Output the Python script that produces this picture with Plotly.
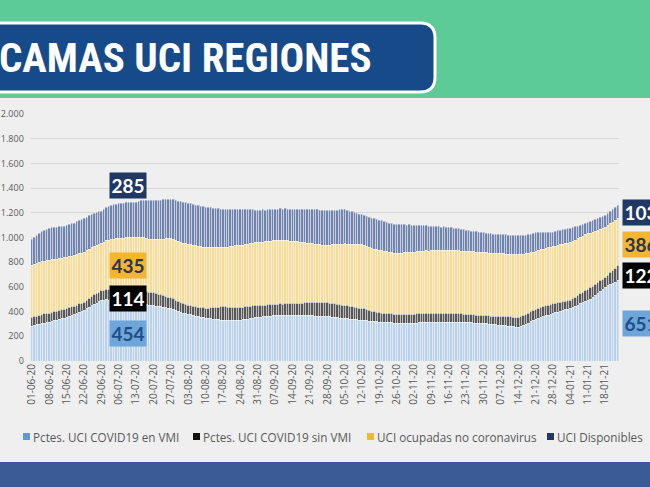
import pandas as pd
import plotly.graph_objects as go

# daily values, 01-06-20 .. 23-01-21 (one row = one week)
vmi = [
    285, 290, 296, 300, 304, 309, 312,
    316, 322, 327, 333, 338, 345, 350,
    356, 362, 370, 378, 389, 398, 405,
    413, 425, 437, 448, 462, 471, 482,
    490, 494, 497, 494, 490, 487, 484,
    480, 476, 472, 468, 463, 459, 456,
    454, 458, 461, 459, 456, 453, 452,
    450, 447, 443, 440, 436, 432, 428,
    425, 419, 412, 405, 397, 390, 385,
    380, 376, 371, 366, 361, 357, 353,
    350, 347, 344, 341, 338, 335, 333,
    332, 330, 329, 331, 330, 333, 331,
    332, 335, 338, 342, 345, 349, 352,
    354, 356, 359, 361, 364, 366, 368,
    370, 372, 373, 371, 374, 373, 372,
    372, 371, 373, 370, 369, 371, 369,
    368, 367, 366, 365, 364, 363, 362,
    362, 360, 358, 355, 352, 350, 348,
    346, 344, 342, 340, 337, 335, 333,
    332, 330, 327, 325, 322, 320, 318,
    316, 315, 313, 312, 311, 310, 309,
    308, 307, 306, 308, 307, 309, 308,
    308, 309, 310, 311, 310, 312, 311,
    312, 313, 314, 315, 314, 316, 315,
    316, 315, 316, 314, 313, 314, 312,
    312, 311, 310, 309, 308, 307, 306,
    305, 303, 300, 298, 296, 294, 292,
    290, 288, 286, 283, 281, 279, 277,
    275, 280, 288, 297, 308, 318, 329,
    340, 347, 354, 361, 368, 374, 380,
    385, 391, 398, 404, 411, 417, 423,
    429, 437, 446, 455, 465, 473, 482,
    490, 503, 518, 533, 550, 566, 583,
    599, 610, 620, 630, 641, 651,
]

sin_vmi = [
    71, 72, 70, 73, 72, 74, 73,
    73, 75, 74, 72, 74, 73, 72,
    73, 71, 70, 68, 66, 67, 66,
    65, 68, 71, 74, 76, 78, 79,
    80, 82, 84, 86, 89, 91, 93,
    95, 98, 101, 104, 107, 110, 112,
    114, 113, 112, 110, 109, 107, 106,
    105, 103, 101, 99, 96, 94, 92,
    90, 87, 84, 81, 78, 76, 74,
    72, 73, 74, 75, 76, 78, 79,
    80, 84, 89, 94, 99, 104, 108,
    110, 111, 109, 108, 107, 106, 106,
    105, 104, 103, 101, 100, 99, 98,
    97, 96, 95, 93, 92, 91, 90,
    90, 91, 92, 92, 93, 94, 94,
    95, 97, 98, 100, 101, 103, 104,
    105, 106, 107, 108, 109, 110, 111,
    112, 111, 110, 109, 108, 107, 106,
    105, 104, 103, 101, 100, 99, 98,
    97, 94, 90, 87, 83, 80, 77,
    75, 75, 74, 74, 73, 74, 73,
    73, 72, 73, 74, 73, 72, 73,
    73, 74, 73, 75, 74, 76, 75,
    75, 74, 75, 74, 73, 74, 73,
    73, 72, 71, 70, 70, 69, 68,
    68, 67, 66, 66, 65, 65, 64,
    64, 65, 67, 68, 69, 70, 71,
    72, 73, 75, 76, 78, 79, 80,
    81, 81, 82, 81, 82, 82, 81,
    82, 82, 81, 81, 80, 81, 80,
    80, 78, 76, 73, 71, 68, 66,
    65, 68, 72, 76, 81, 86, 91,
    95, 93, 91, 89, 87, 85, 83,
    81, 88, 96, 104, 113, 122,
]

ocupadas = [
    421, 424, 428, 426, 430, 428, 431,
    429, 427, 424, 422, 420, 417, 415,
    413, 412, 410, 409, 408, 407, 406,
    405, 402, 399, 396, 393, 390, 388,
    385, 389, 394, 400, 406, 411, 416,
    421, 423, 425, 427, 429, 431, 433,
    435, 434, 433, 432, 431, 430, 430,
    430, 436, 443, 450, 458, 466, 473,
    480, 483, 485, 487, 489, 492, 494,
    495, 495, 494, 494, 494, 493, 493,
    493, 491, 489, 487, 485, 483, 481,
    480, 484, 487, 491, 494, 498, 500,
    502, 503, 504, 505, 507, 508, 509,
    510, 511, 512, 513, 515, 516, 517,
    518, 516, 514, 512, 510, 508, 507,
    505, 501, 497, 493, 489, 486, 483,
    480, 478, 476, 474, 471, 469, 467,
    465, 470, 475, 480, 485, 490, 495,
    500, 502, 504, 506, 508, 510, 512,
    514, 513, 512, 511, 510, 509, 508,
    508, 505, 503, 500, 498, 496, 494,
    493, 494, 496, 497, 498, 500, 501,
    502, 503, 504, 505, 505, 506, 507,
    508, 508, 509, 509, 509, 510, 510,
    510, 511, 509, 510, 511, 509, 510,
    510, 511, 510, 512, 511, 510, 511,
    511, 510, 510, 509, 509, 508, 508,
    508, 509, 508, 510, 509, 511, 510,
    510, 504, 498, 492, 486, 480, 475,
    470, 469, 468, 467, 465, 464, 463,
    462, 463, 464, 466, 467, 468, 469,
    470, 467, 464, 461, 457, 454, 451,
    448, 442, 436, 430, 423, 417, 411,
    405, 402, 398, 394, 390, 386,
]

disponibles = [
    211, 220, 228, 236, 243, 249, 254,
    259, 260, 258, 259, 260, 259, 258,
    259, 261, 263, 265, 268, 271, 273,
    275, 273, 271, 269, 267, 265, 263,
    262, 265, 268, 271, 275, 278, 281,
    283, 283, 284, 284, 284, 285, 285,
    285, 290, 294, 299, 304, 309, 312,
    315, 316, 316, 316, 317, 317, 317,
    317, 320, 322, 325, 327, 330, 331,
    333, 333, 332, 331, 330, 329, 328,
    327, 324, 321, 318, 315, 312, 310,
    308, 306, 303, 301, 299, 296, 294,
    292, 288, 283, 279, 274, 270, 266,
    262, 261, 260, 258, 257, 255, 254,
    253, 254, 255, 256, 257, 258, 259,
    260, 262, 265, 267, 270, 272, 275,
    277, 278, 279, 280, 281, 282, 283,
    284, 283, 282, 281, 280, 279, 278,
    278, 273, 268, 263, 258, 253, 249,
    247, 246, 246, 245, 244, 244, 243,
    243, 242, 241, 239, 238, 237, 236,
    235, 233, 231, 229, 226, 224, 222,
    220, 217, 214, 211, 208, 205, 202,
    200, 198, 196, 194, 192, 190, 188,
    186, 184, 182, 180, 178, 176, 174,
    172, 170, 168, 166, 164, 162, 161,
    160, 159, 158, 158, 157, 156, 156,
    155, 155, 155, 154, 154, 154, 154,
    154, 153, 152, 151, 150, 149, 149,
    148, 144, 140, 136, 132, 128, 124,
    120, 119, 118, 117, 116, 115, 114,
    113, 110, 107, 104, 100, 97, 94,
    92, 93, 93, 94, 95, 96, 96,
    97, 98, 99, 101, 102, 103,
]

series_names = ["Pctes. UCI COVID19 en VMI", "Pctes. UCI COVID19 sin VMI",
                "UCI ocupadas no coronavirus", "UCI Disponibles"]
bar_colors = ["#b9d1ea", "#575757", "#f5dd97", "#7084ad"]
key_colors = ["#5b9bd5", "#111111", "#f0b92e", "#1f3864"]

# boxed values: peak of july and last day
peak_labels = [454, 114, 435, 285]
last_labels = [651, 122, 386, 103]

dates = pd.date_range("2020-06-01", periods=len(vmi), freq="D")
W, H = 650, 487


def px(x):
    return x / W


def py(y):
    return 1 - y / H


fig = go.Figure()
for vals, name, col in zip([vmi, sin_vmi, ocupadas, disponibles], series_names, bar_colors):
    fig.add_trace(go.Bar(
        x=dates, y=vals, name=name,
        marker=dict(color=col, line=dict(color="#f7f7f7", width=0.4)),
        showlegend=False,
    ))

shapes = [
    # green header band
    dict(type="rect", xref="paper", yref="paper", x0=0, x1=1, y0=py(98), y1=1,
         fillcolor="#5ccb98", line=dict(width=0), layer="below"),
    # bottom band
    dict(type="rect", xref="paper", yref="paper", x0=0, x1=1, y0=0, y1=py(462),
         fillcolor="#3a5a95", line=dict(width=0), layer="below"),
    # title box
    dict(type="path", xref="paper", yref="paper",
         path=(f"M {px(-20)},{py(23)} L {px(420)},{py(23)} "
               f"Q {px(435)},{py(23)} {px(435)},{py(38)} L {px(435)},{py(77)} "
               f"Q {px(435)},{py(92)} {px(420)},{py(92)} L {px(-20)},{py(92)} Z"),
         fillcolor="#174a88", line=dict(color="white", width=3)),
]

annotations = [
    dict(text="<b>CAMAS UCI REGIONES</b>", x=px(-3), y=py(58), xref="paper", yref="paper",
         xanchor="left", yanchor="middle", showarrow=False,
         font=dict(family="Liberation Sans Narrow, Roboto Condensed, Roboto", size=41, color="white")),
]

# legend drawn by hand to match the spacing
key_x = [23, 193, 367, 547]
for kx, name, col in zip(key_x, series_names, key_colors):
    shapes.append(dict(type="rect", xref="paper", yref="paper",
                       x0=px(kx), x1=px(kx + 7), y0=py(440), y1=py(433),
                       fillcolor=col, line=dict(width=0)))
    annotations.append(dict(text=name, x=px(kx + 8), y=py(437), xref="paper", yref="paper",
                            xanchor="left", yanchor="middle", showarrow=False,
                            font=dict(family="Open Sans", size=11.7, color="#595959")))

box_bg = ["#6ea6da", "#000000", "#f2b631", "#1f3864"]
box_fg = ["#1f4e89", "white", "#2b3550", "white"]
peak_y = [333, 298, 265, 185]
last_y = [323, 275, 245, 212]
for i in range(4):
    annotations.append(dict(text=f"<b>{peak_labels[i]}</b>", x=px(128), y=py(peak_y[i]),
                            xref="paper", yref="paper", showarrow=False,
                            xanchor="center", yanchor="middle",
                            width=36, height=25, bgcolor=box_bg[i], borderpad=0,
                            font=dict(family="Lato", size=19, color=box_fg[i])))
    annotations.append(dict(text=f"<b>{last_labels[i]}</b>", x=px(622), y=py(last_y[i]),
                            xref="paper", yref="paper", showarrow=False,
                            xanchor="left", yanchor="middle",
                            width=36, height=25, bgcolor=box_bg[i], borderpad=0,
                            font=dict(family="Lato", size=19, color=box_fg[i])))

fig.update_layout(
    width=W, height=H,
    margin=dict(l=0, r=0, t=0, b=0),
    paper_bgcolor="#efefef",
    plot_bgcolor="#efefef",
    barmode="stack",
    bargap=0,
    separators=",.",
    shapes=shapes,
    annotations=annotations,
    xaxis=dict(
        domain=[px(30.8), px(618.8)],
        automargin=False,
        type="date",
        range=[dates[0] - pd.Timedelta(hours=12), dates[-1] + pd.Timedelta(hours=12)],
        tick0="2020-06-01", dtick=7 * 86400000, tickformat="%d-%m-%y",
        tickangle=-90, showgrid=False, ticks="",
        tickfont=dict(family="Open Sans", size=10, color="#595959"),
    ),
    yaxis=dict(
        domain=[py(361), py(114.3)],
        automargin=False,
        range=[0, 2000], dtick=200, tickformat=",d",
        gridcolor="#d6d6d6", gridwidth=1, zeroline=False,
        ticklabelstandoff=6,
        tickfont=dict(family="Open Sans", size=9, color="#595959"),
    ),
)

fig.write_html("out.html", config={"displayModeBar": False},
               post_script="document.body.style.margin='0';")
